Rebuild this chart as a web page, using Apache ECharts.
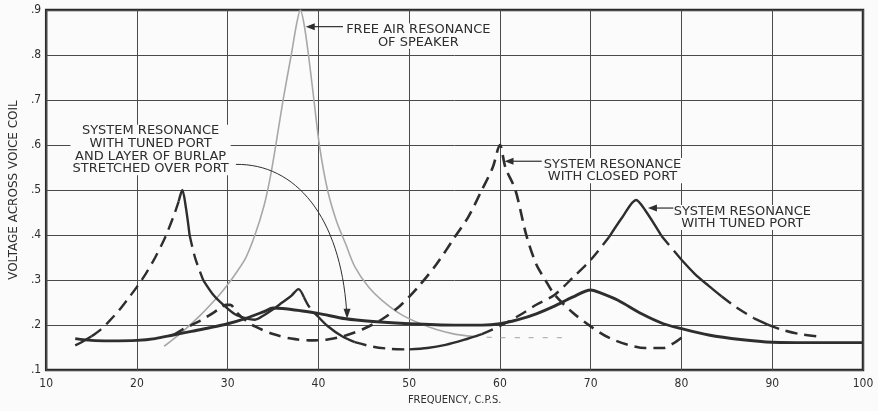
<!DOCTYPE html>
<html>
<head>
<meta charset="utf-8">
<script src="https://cdn.jsdelivr.net/npm/echarts@6/dist/echarts.min.js"></script>
<style>
  html, body { margin: 0; padding: 0; background: #fbfbfb; }
  #chart { width: 878px; height: 411px; }
</style>
</head>
<body>
<div id="chart"></div>
<script>
// frequency (c.p.s.) / voltage readings for each curve
const freqFree = [23, 25, 27, 29, 30, 31, 32, 33, 34, 34.7, 35.3, 36.1, 37, 37.6, 38, 38.4, 38.9, 39.5, 40.1, 41, 42, 43, 44, 45.5, 47, 49, 51, 53, 55, 57]
const voltFree = [0.153, 0.185, 0.222, 0.265, 0.29, 0.318, 0.35, 0.4, 0.465, 0.53, 0.6, 0.7, 0.8, 0.87, 0.9, 0.87, 0.8, 0.7, 0.6, 0.5, 0.43, 0.38, 0.33, 0.285, 0.255, 0.225, 0.205, 0.19, 0.18, 0.175]
const freqFreeTail = [57, 60, 63, 67]
const voltFreeTail = [0.175, 0.172, 0.172, 0.172]

const freqClosed = [24, 25, 26, 27, 28, 29, 29.8, 30.3, 31, 32, 33, 35, 37, 39, 41, 43, 45, 47, 49, 51, 53, 55, 56.5, 58, 59.2, 60, 60.6, 61.7, 62.9, 64, 65, 66, 68, 70, 72, 74, 76, 78, 79, 80]
const voltClosed = [0.178, 0.19, 0.2, 0.21, 0.222, 0.235, 0.245, 0.245, 0.228, 0.21, 0.197, 0.18, 0.17, 0.166, 0.168, 0.177, 0.192, 0.213, 0.243, 0.285, 0.335, 0.395, 0.44, 0.5, 0.55, 0.6, 0.55, 0.5, 0.4, 0.335, 0.3, 0.268, 0.228, 0.197, 0.172, 0.157, 0.149, 0.149, 0.158, 0.172]

const freqTuned = [13.2, 14, 15, 16, 17, 18, 19, 20, 21, 22, 23, 24, 24.6, 25, 25.4, 25.8, 26.4, 27.3, 28.5, 29.8, 31, 33, 34, 35, 36, 37, 37.8, 38.4, 39, 40, 41, 42.6, 44, 46, 48, 50, 52, 54, 56, 58, 60, 62, 64, 66, 68, 70, 72, 73.5, 75, 76, 77.8, 80, 81.4, 83, 84.4, 86, 88, 89.5, 91, 93, 95]
const voltTuned = [0.155, 0.163, 0.175, 0.19, 0.21, 0.232, 0.258, 0.285, 0.315, 0.35, 0.39, 0.44, 0.475, 0.5, 0.46, 0.4, 0.35, 0.3, 0.265, 0.24, 0.222, 0.212, 0.222, 0.235, 0.25, 0.265, 0.28, 0.262, 0.24, 0.218, 0.198, 0.175, 0.162, 0.152, 0.147, 0.146, 0.149, 0.156, 0.167, 0.18, 0.198, 0.22, 0.245, 0.267, 0.305, 0.345, 0.395, 0.44, 0.478, 0.455, 0.398, 0.345, 0.315, 0.287, 0.264, 0.24, 0.215, 0.201, 0.19, 0.18, 0.175]

const freqBurlap = [13.2, 15, 17, 20, 22, 24, 26, 28, 30, 32, 34, 35, 36, 38, 40, 43, 46, 50, 55, 58, 60, 62, 64, 66, 68, 70, 71, 73, 75.6, 78, 80, 83, 86.5, 90, 95, 100]
const voltBurlap = [0.17, 0.166, 0.165, 0.166, 0.17, 0.178, 0.186, 0.194, 0.203, 0.215, 0.23, 0.238, 0.237, 0.232, 0.226, 0.214, 0.208, 0.203, 0.2, 0.2, 0.203, 0.212, 0.225, 0.242, 0.262, 0.278, 0.272, 0.255, 0.225, 0.203, 0.192, 0.178, 0.168, 0.162, 0.161, 0.161]

const xTicks = [10, 20, 30, 40, 50, 60, 70, 80, 90, 100]

const ink = '#2e2e2e'
const pairs = (xs, ys) => xs.map((x, i) => [x, ys[i]])

// the tuned-port curve is drawn partly solid, partly dashed (as on the original)
const tunedSolid = [[13.2, 15], [24.6, 25.8], [27.3, 38.4], [40, 44], [50, 58], [72, 77.8], [80, 84.4], [88, 89.5]]
const tunedPieces = []
{
  const pts = pairs(freqTuned, voltTuned)
  let cuts = [13.2]
  tunedSolid.forEach(r => { cuts.push(r[0], r[1]) })
  cuts.push(95)
  cuts = [...new Set(cuts)]
  for (let k = 0; k < cuts.length - 1; k++) {
    const a = cuts[k], b = cuts[k + 1]
    const solid = tunedSolid.some(r => r[0] === a && r[1] === b)
    tunedPieces.push({ data: pts.filter(p => p[0] >= a && p[0] <= b), solid })
  }
}

const series = [
  {
    type: 'line', data: pairs(freqFree, voltFree), smooth: 0.3, symbol: 'none',
    lineStyle: { color: '#a8a8a8', width: 1.6 }
  },
  {
    type: 'line', data: pairs(freqFreeTail, voltFreeTail), smooth: 0.3, symbol: 'none',
    lineStyle: { color: '#b5b5b5', width: 1.2, type: [5, 9] }
  },
  {
    type: 'line', data: pairs(freqBurlap, voltBurlap), smooth: 0.3, symbol: 'none',
    lineStyle: { color: ink, width: 2.9 }
  },
  {
    type: 'line', data: pairs(freqClosed, voltClosed), smooth: 0.3, symbol: 'none',
    lineStyle: { color: ink, width: 2.6, type: [12, 7] }
  }
]
tunedPieces.forEach(p => {
  series.push({
    type: 'line', data: p.data, smooth: 0.3, symbol: 'none',
    lineStyle: { color: ink, width: 2.4, type: p.solid ? 'solid' : [12, 7] }
  })
})

const chart = echarts.init(document.getElementById('chart'))
chart.setOption({
  backgroundColor: '#fbfbfb',
  animation: false,
  grid: { left: 38, right: 15, top: 10, bottom: 37, show: true, borderColor: '#2a2a2a', borderWidth: 2.5 },
  xAxis: {
    type: 'value', min: 10, max: 100, interval: 10,
    name: 'FREQUENCY, C.P.S.', nameLocation: 'middle', nameGap: 22,
    nameTextStyle: { color: ink, fontSize: 11, fontFamily: 'Liberation Sans Narrow, DejaVu Sans Condensed, sans-serif' },
    axisLine: { show: false }, axisTick: { show: false },
    axisLabel: {
      color: ink, fontSize: 12, margin: 8,
      fontFamily: 'Liberation Sans Narrow, DejaVu Sans Condensed, sans-serif',
      formatter: v => xTicks.includes(v) ? String(v) : ''
    },
    splitLine: { lineStyle: { color: '#4a4a4a', width: 1 } }
  },
  yAxis: {
    type: 'value', min: 0.1, max: 0.9, interval: 0.1,
    name: 'VOLTAGE ACROSS VOICE COIL', nameLocation: 'middle', nameGap: 24,
    nameTextStyle: { color: ink, fontSize: 12, fontFamily: 'DejaVu Sans, sans-serif' },
    axisLine: { show: false }, axisTick: { show: false },
    axisLabel: {
      color: ink, fontSize: 12, margin: 5,
      fontFamily: 'Liberation Sans Narrow, DejaVu Sans Condensed, sans-serif',
      formatter: v => v.toFixed(1).replace('0.', '.')
    },
    splitLine: { lineStyle: { color: '#4a4a4a', width: 1 } }
  },
  series
})

// annotations, anchored in data units
const px = (x, y) => chart.convertToPixel({ gridIndex: 0 }, [x, y])
const labelStyle = (text, x, y) => ({
  type: 'text', z: 50,
  style: {
    text, x, y, align: 'center', verticalAlign: 'top',
    font: '13px "DejaVu Sans", sans-serif', fill: ink, lineHeight: 12.6,
    backgroundColor: '#fbfbfb', padding: [0, 2]
  }
})
const arrowLeft = (tail, tip) => [
  { type: 'line', z: 51, shape: { x1: tail[0], y1: tail[1], x2: tip[0] + 6, y2: tip[1] }, style: { stroke: ink, lineWidth: 1.2 } },
  { type: 'polygon', z: 51, shape: { points: [[tip[0], tip[1]], [tip[0] + 9, tip[1] - 3.5], [tip[0] + 9, tip[1] + 3.5]] }, style: { fill: ink } }
]

const g = []
let p, t
p = px(51.0, 0.87); g.push(labelStyle('FREE AIR RESONANCE\nOF SPEAKER', p[0], p[1]))
g.push(...arrowLeft(px(42.7, 0.863), px(38.6, 0.863)))

p = px(72.4, 0.571); g.push(labelStyle('SYSTEM RESONANCE\nWITH CLOSED PORT', p[0], p[1]))
g.push(...arrowLeft(px(64.6, 0.564), px(60.5, 0.564)))

p = px(86.7, 0.467); g.push(labelStyle('SYSTEM RESONANCE\nWITH TUNED PORT', p[0], p[1]))
g.push(...arrowLeft(px(79.1, 0.46), px(76.3, 0.46)))

p = px(21.5, 0.645); g.push(labelStyle('SYSTEM RESONANCE\nWITH TUNED PORT\nAND LAYER OF BURLAP\nSTRETCHED OVER PORT', p[0], p[1]))
const b0 = px(30.9, 0.557), b1 = px(37.5, 0.559), b2 = px(42.4, 0.44), b3 = px(43.1, 0.232)
g.push({ type: 'bezierCurve', z: 51, shape: { x1: b0[0], y1: b0[1], cpx1: b1[0], cpy1: b1[1], cpx2: b2[0], cpy2: b2[1], x2: b3[0], y2: b3[1] }, style: { stroke: ink, lineWidth: 1, fill: null } })
t = px(43.15, 0.214)
g.push({ type: 'polygon', z: 51, shape: { points: [[t[0], t[1]], [t[0] - 3.5, t[1] - 10], [t[0] + 3.5, t[1] - 10]] }, style: { fill: ink } })

chart.setOption({ graphic: g })
</script>
</body>
</html>
